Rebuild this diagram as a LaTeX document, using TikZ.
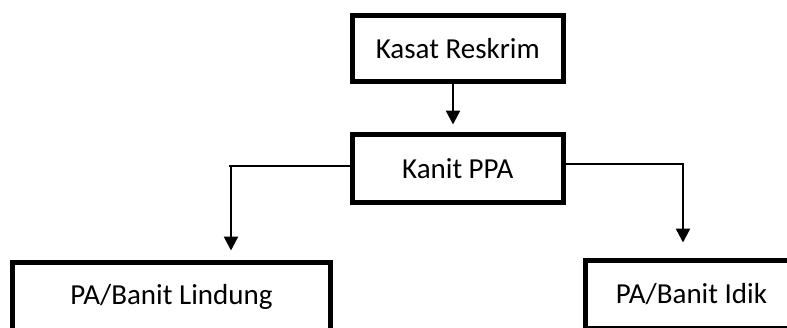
\documentclass[tikz,border=0pt]{standalone}
\usepackage{fontspec}
\setmainfont{Carlito}
\usetikzlibrary{arrows.meta}

\begin{document}
\begin{tikzpicture}
[x=1pt,y=-1pt,
 unit/.style={draw,line width=5pt,inner sep=0pt,font=\fontsize{29}{34}\selectfont},
 link/.style={line width=1.5pt},
 down/.style={line width=2.5pt,-{Triangle[length=14pt,width=14pt]}}]
\clip (0,0) rectangle (787,327);

\node[unit,minimum width=210.5pt,minimum height=66.5pt] (kasat) at (457.75,48.25) {Kasat Reskrim};
\node[unit,minimum width=210.5pt,minimum height=68.5pt] (kanit) at (457.75,168.25) {Kanit PPA};
\node[unit,minimum width=318pt,minimum height=69pt] (lindung) at (171.5,297) {PA/Banit Lindung};
\node[unit,minimum width=213pt,minimum height=68pt] (idik) at (691.5,294) {PA/Banit Idik};

\coordinate (lturn) at (231,166);
\coordinate (rturn) at (683,164);

\draw[down,shorten >=7pt] ([xshift=-4.75pt]kasat.south) -- ([xshift=-4.75pt]kanit.north);

\draw[link] (kanit.west |- lturn) -- ([xshift=-2pt]lturn);
\draw[down,shorten >=9.5pt] (lturn) -- (lturn |- lindung.north);

\draw[link] (kanit.east |- rturn) -- ([xshift=1pt]rturn);
\draw[down,shorten >=15pt] (rturn) -- (rturn |- idik.north);
\end{tikzpicture}
\end{document}
